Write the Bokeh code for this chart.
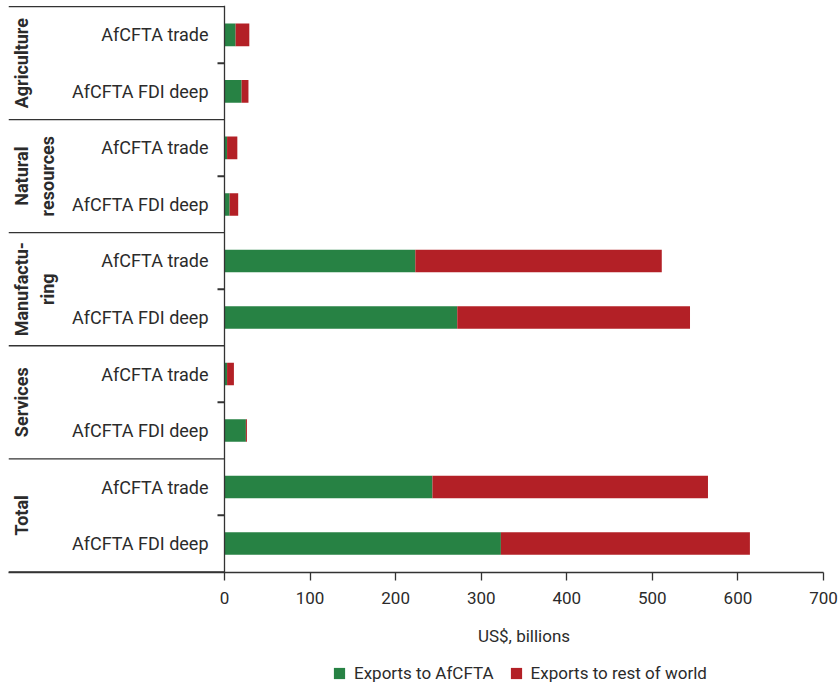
import math
from bokeh.plotting import figure
from bokeh.layouts import column
from bokeh.models import (ColumnDataSource, Range1d, FixedTicker, Span, Legend,
                          LegendItem)
from bokeh.core.properties import value
from bokeh.embed import file_html
from bokeh.resources import INLINE

# ---------------- data ----------------
sectors = ["Agriculture", "Natural\nresources", "Manufactu-\nring", "Services", "Total"]
scenarios = ["AfCFTA trade", "AfCFTA FDI deep"]
# rows top to bottom: (sector, scenario)
exports_afcfta = [13, 20, 3, 6, 223, 272, 3, 25, 243, 323]
exports_rest = [16, 8, 12, 10, 288, 272, 8, 1.2, 322, 291]
series_names = ["Exports to AfCFTA", "Exports to rest of world"]
x_ticks = [0, 100, 200, 300, 400, 500, 600, 700]
x_title = "US$, billions"

# ---------------- style / layout ----------------
colors = ["#278244", "#b32026"]
TEXT = "#2b2b2b"
LINE = "#333333"
FONT = "Roboto"
W = 840
H_TOTAL = 686
H_MAIN = 612
H_LOW = H_TOTAL - H_MAIN
BORDER_L = 8
BORDER_R = 17
BORDER_T = 5
BORDER_B = H_MAIN - 572
FRAME_W = W - BORDER_R - BORDER_L
ZERO_PX = 216              # pixel position of x=0 inside the frame
X_MAX = x_ticks[-1]
x_start = -ZERO_PX * X_MAX / (FRAME_W - ZERO_PX)
px_per_unit = (FRAME_W - ZERO_PX) / X_MAX

n_sc = len(scenarios)
n_rows = len(sectors) * n_sc
row_y = [i + 0.5 for i in range(n_rows)]
row_labels = [s for _ in sectors for s in scenarios]

source = ColumnDataSource(dict(
    y=row_y,
    **{series_names[0]: exports_afcfta, series_names[1]: exports_rest},
))

x_range = Range1d(x_start, X_MAX)
p = figure(width=W, height=H_MAIN, output_backend="svg", toolbar_location=None,
           x_range=x_range, y_range=Range1d(n_rows + 0.012, -0.02),
           y_axis_location=None,
           min_border_left=BORDER_L, min_border_right=BORDER_R,
           min_border_top=BORDER_T, min_border_bottom=BORDER_B)
p.outline_line_color = None
p.grid.visible = False
p.background_fill_color = "white"
p.border_fill_color = "white"

renderers = p.hbar_stack(series_names, y="y", height=0.4, color=colors,
                         line_color=None, source=source)

# x axis
ax = p.xaxis[0]
ax.ticker = FixedTicker(ticks=x_ticks)
ax.minor_tick_line_color = None
ax.major_tick_out = 8
ax.major_tick_in = 0
ax.major_tick_line_color = LINE
ax.major_tick_line_width = 1.3
ax.axis_line_color = LINE
ax.axis_line_width = 1.3
ax.major_label_text_font = FONT
ax.major_label_text_font_size = "17px"
ax.major_label_text_color = TEXT
ax.major_label_standoff = 11

# vertical axis line at x = 0
p.add_layout(Span(location=0, dimension="height", line_color=LINE, line_width=1.3))

# group boundary lines on the left (including the bottom one)
bounds = [g * n_sc for g in range(len(sectors) + 1)]
p.segment(x0=[x_start] * len(bounds), x1=[0] * len(bounds), y0=bounds, y1=bounds,
          line_color=LINE, line_width=1.3)
# small ticks between the two bars of a group
mids = [g * n_sc + n_sc / 2 for g in range(len(sectors))]
p.segment(x0=[-7 / px_per_unit] * len(mids), x1=[0] * len(mids), y0=mids, y1=mids,
          line_color=LINE, line_width=2)

# row labels
p.text(x=[0] * n_rows, y=row_y, text=row_labels, x_offset=-16,
       text_align="right", text_baseline="middle",
       text_font=value(FONT), text_font_size="18px", text_color=TEXT)

# group labels (rotated)
p.text(x=[x_start] * len(sectors), y=mids, text=sectors, angle=math.pi / 2,
       x_offset=2, text_align="center", text_baseline="top",
       text_font=value(FONT), text_font_size="18px", text_font_style="bold",
       text_color=TEXT, text_line_height=1.25)

# ---------------- strip below: axis title + legend ----------------
OFF = 100   # keeps the strip's y range well away from the bar rows
pl = figure(width=W, height=H_LOW, output_backend="svg", toolbar_location=None,
            x_range=x_range, y_range=Range1d(-(H_LOW + OFF), -OFF),
            x_axis_location=None, y_axis_location=None,
            min_border_left=BORDER_L, min_border_right=BORDER_R,
            min_border_top=0, min_border_bottom=0)
pl.outline_line_color = None
pl.grid.visible = False
pl.background_fill_color = "white"
pl.border_fill_color = "white"

# axis title centred on the data range (23 px below the strip top)
pl.text(x=[X_MAX / 2], y=[-(OFF + 23)], text=[x_title], text_align="center",
        text_baseline="middle", text_font=value(FONT), text_font_size="17px",
        text_color=TEXT)

# legend swatches: same series, renderers hidden so only the legend shows them
swatches = pl.hbar_stack(series_names, y="y", height=0.4, color=colors,
                         line_color=None, source=source)
for r in swatches:
    r.visible = False
legend = Legend(items=[LegendItem(label=n, renderers=[r]) for n, r in zip(series_names, swatches)],
                orientation="horizontal", location=(324, 3), click_policy="none",
                glyph_width=14, glyph_height=14, label_standoff=8, spacing=15,
                padding=0, margin=0, border_line_color=None, background_fill_alpha=0,
                label_text_font=FONT, label_text_font_size="17px", label_text_color=TEXT,
                label_height=14)
pl.add_layout(legend)

layout = column(p, pl, spacing=0)
open("out.html", "w").write(file_html(layout, INLINE))
